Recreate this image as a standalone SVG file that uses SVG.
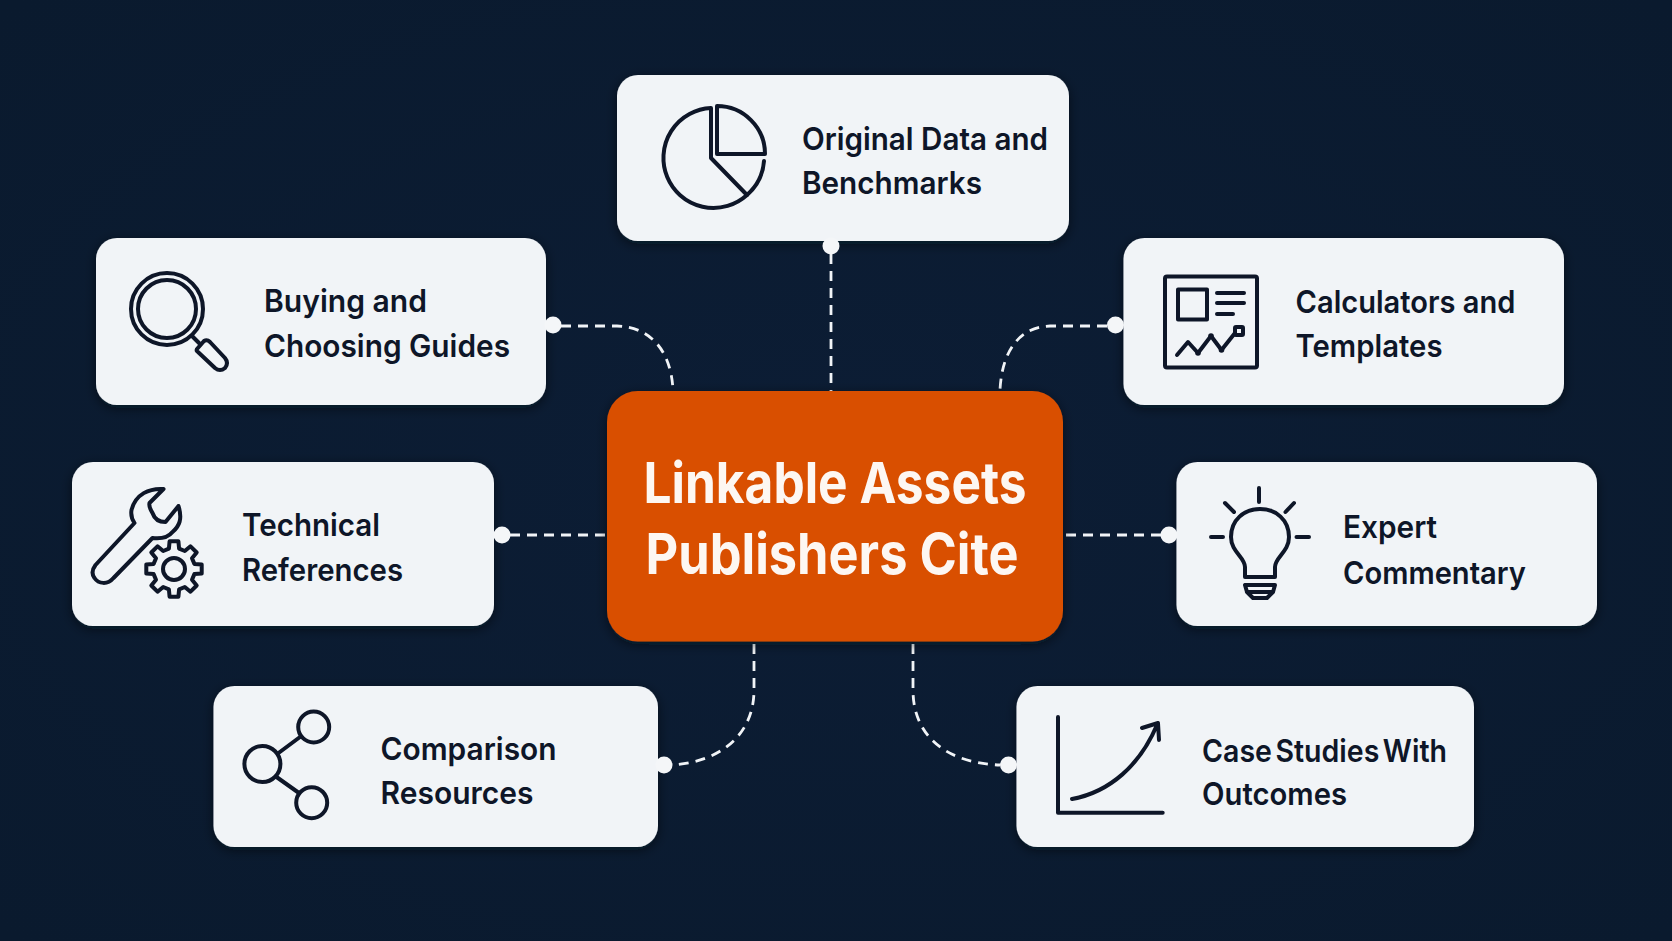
<svg xmlns="http://www.w3.org/2000/svg" width="1672" height="941" viewBox="0 0 1672 941">
<style>
.card{fill:#f1f4f7;filter:url(#sh)}
.lbl{font-family:Inter,"Liberation Sans",sans-serif;font-weight:600;font-size:31.500px;fill:#0e1628}
.ttl{font-family:Inter,"Liberation Sans",sans-serif;font-weight:700;font-size:57px;fill:#fdf7f2}
.ic{fill:none;stroke:#0e1628;stroke-width:4;stroke-linecap:round;stroke-linejoin:round}
.cn{fill:none;stroke:#f1f4f7;stroke-width:2.800;stroke-dasharray:10 7}
.dot{fill:#f4f6f8}
</style>
<defs>
<radialGradient id="bg" cx="50%" cy="50%" r="70%"><stop offset="0" stop-color="#0c1d35"/><stop offset="1" stop-color="#0a1a2e"/></radialGradient>
<filter id="sh" x="-10%" y="-15%" width="120%" height="135%"><feDropShadow dx="0" dy="3" stdDeviation="6" flood-color="#020812" flood-opacity="0.55"/></filter>
</defs>
<rect width="1672" height="941" fill="url(#bg)"/>
<g id="connectors">
<path class="cn" d="M831 254V391"/>
<path class="cn" d="M561 326H617C650 327 671 350 673 390"/>
<path class="cn" d="M1107 326H1050C1020 327 1002 350 1000 390"/>
<path class="cn" d="M510 535H606"/>
<path class="cn" d="M1161 535H1065"/>
<path class="cn" d="M754 644V690C754 735 720 762 672 765"/>
<path class="cn" d="M913 644V690C913 735 945 763 1000 765"/>
</g>
<g id="center"><rect x="607" y="391" width="456" height="250.500" rx="31" fill="#d95000" filter="url(#sh)"/>
<text class="ttl" x="643.500" y="502.500" textLength="383" lengthAdjust="spacingAndGlyphs">Linkable Assets</text><text class="ttl" x="645.500" y="574" textLength="373" lengthAdjust="spacingAndGlyphs">Publishers Cite</text></g>
<g id="node-data"><rect class="card" x="617" y="75" width="452" height="166" rx="21"/>
<path class="ic" d="M711 108A50 50 0 1 0 747 195L711 158Z"/><path class="ic" d="M717 106V154H765A48 48 0 0 0 717 106Z"/><path class="ic" d="M764 161A50 50 0 0 1 747 195"/>
<circle class="dot" cx="831" cy="246" r="8.500"/>
<text class="lbl" x="802" y="150" textLength="246" lengthAdjust="spacingAndGlyphs">Original Data and</text><text class="lbl" x="802" y="193.500" textLength="180" lengthAdjust="spacingAndGlyphs">Benchmarks</text></g>
<g id="node-guides"><rect class="card" x="96" y="238" width="450" height="167" rx="21"/>
<circle class="ic" cx="167" cy="309" r="36"/><circle class="ic" cx="167" cy="309" r="29"/>
<path class="ic" d="M192 336L199 343"/><path class="ic" d="M197 349L204 341Q207 339 210 342L225 358Q229 363 225 368Q220 372 215 368L198 352Q196 351 197 349Z"/>
<circle class="dot" cx="553" cy="325" r="8.500"/>
<text class="lbl" x="264" y="312" textLength="163" lengthAdjust="spacingAndGlyphs">Buying and</text><text class="lbl" x="264" y="357" textLength="246" lengthAdjust="spacingAndGlyphs">Choosing Guides</text></g>
<g id="node-calc"><rect class="card" x="1123.500" y="238" width="440.500" height="167" rx="21"/>
<rect class="ic" x="1165" y="276.500" width="92" height="91" rx="2"/><rect class="ic" x="1178" y="289.500" width="29" height="30"/>
<path class="ic" d="M1217 293H1244M1217 303H1244M1217 314H1233M1177 355L1188 342L1198 353L1211 336L1221.500 350L1235 333"/>
<rect class="ic" x="1235" y="327" width="8" height="8" rx="1"/>
<g fill="#0e1628"><circle cx="1198" cy="353" r="2.800"/><circle cx="1211" cy="336" r="2.800"/><circle cx="1221.500" cy="350" r="2.800"/></g>
<circle class="dot" cx="1115.500" cy="325" r="8.500"/>
<text class="lbl" x="1295.500" y="313" textLength="220" lengthAdjust="spacingAndGlyphs">Calculators and</text><text class="lbl" x="1295.500" y="357" textLength="147" lengthAdjust="spacingAndGlyphs">Templates</text></g>
<g id="node-tech"><rect class="card" x="72" y="462" width="422" height="164" rx="21"/>
<path class="ic" transform="translate(1.500 0)" d="M162 489C148 488 134 494 130 510C129 516 131 520 133 523L94 565C91 569 90 574 93 578C97 584 106 585 112 578L151 538C160 539 167 537 171 532C178 526 181 519 177 506L164 522C158 522 153 519 151 513C149 509 147 507 148 503Z"/>
<path class="ic" d="M194.400 563.900L201.700 564.600L201.700 573.400L194.400 574.100L192 579.800L196.700 585.500L190.500 591.700L184.800 587L179.100 589.400L178.400 596.700L169.600 596.700L168.900 589.400L163.200 587L157.500 591.700L151.300 585.500L156 579.800L153.600 574.100L146.300 573.400L146.300 564.600L153.600 563.900L156 558.200L151.300 552.500L157.500 546.300L163.200 551L168.900 548.600L169.600 541.300L178.400 541.300L179.100 548.600L184.800 551L190.500 546.300L196.700 552.500L192 558.200Z"/>
<circle class="ic" cx="174" cy="569" r="11"/>
<circle class="dot" cx="502" cy="535" r="8.500"/>
<text class="lbl" x="242" y="536" textLength="138" lengthAdjust="spacingAndGlyphs">Technical</text><text class="lbl" x="242" y="581" textLength="161" lengthAdjust="spacingAndGlyphs">References</text></g>
<g id="node-expert"><rect class="card" x="1176.500" y="462" width="420.500" height="164" rx="21"/>
<path class="ic" d="M1245 577V567C1245 557 1231 552 1231 537C1231 520 1244 509 1260 509C1276 509 1289 520 1289 537C1289 552 1275 557 1275 567V577H1245ZM1245 585H1275L1273 592H1247ZM1247 592L1253 598H1267L1273 592"/>
<path class="ic" d="M1259 488V502M1225 503L1234 512M1294 503L1285.500 512M1211 537H1223M1296.500 537H1309"/>
<circle class="dot" cx="1169" cy="535" r="8.500"/>
<text class="lbl" x="1343" y="538" textLength="94" lengthAdjust="spacingAndGlyphs">Expert</text><text class="lbl" x="1343" y="584" textLength="183" lengthAdjust="spacingAndGlyphs">Commentary</text></g>
<g id="node-compare"><rect class="card" x="213.500" y="686" width="444.500" height="161" rx="21"/>
<circle class="ic" cx="313.700" cy="727" r="15.500"/><circle class="ic" cx="262.400" cy="764" r="18"/><circle class="ic" cx="311.700" cy="802.700" r="15.500"/>
<path class="ic" d="M278.500 753L300 737M276.500 777L299 793"/>
<circle class="dot" cx="664" cy="765" r="8.500"/>
<text class="lbl" x="380.500" y="759.500" textLength="176" lengthAdjust="spacingAndGlyphs">Comparison</text><text class="lbl" x="380.500" y="804" textLength="153" lengthAdjust="spacingAndGlyphs">Resources</text></g>
<g id="node-cases"><rect class="card" x="1016.500" y="686" width="457.500" height="161" rx="21"/>
<path class="ic" d="M1058 717V812.700H1162.700M1072 799C1110 792 1140 765 1157 725M1142 728L1158 723L1159 740"/>
<circle class="dot" cx="1008.500" cy="765" r="8.500"/>
<text class="lbl" x="1202" y="761.500" textLength="245" lengthAdjust="spacingAndGlyphs" word-spacing="-4">Case Studies With</text><text class="lbl" x="1202" y="805" textLength="145" lengthAdjust="spacingAndGlyphs">Outcomes</text></g>
</svg>
